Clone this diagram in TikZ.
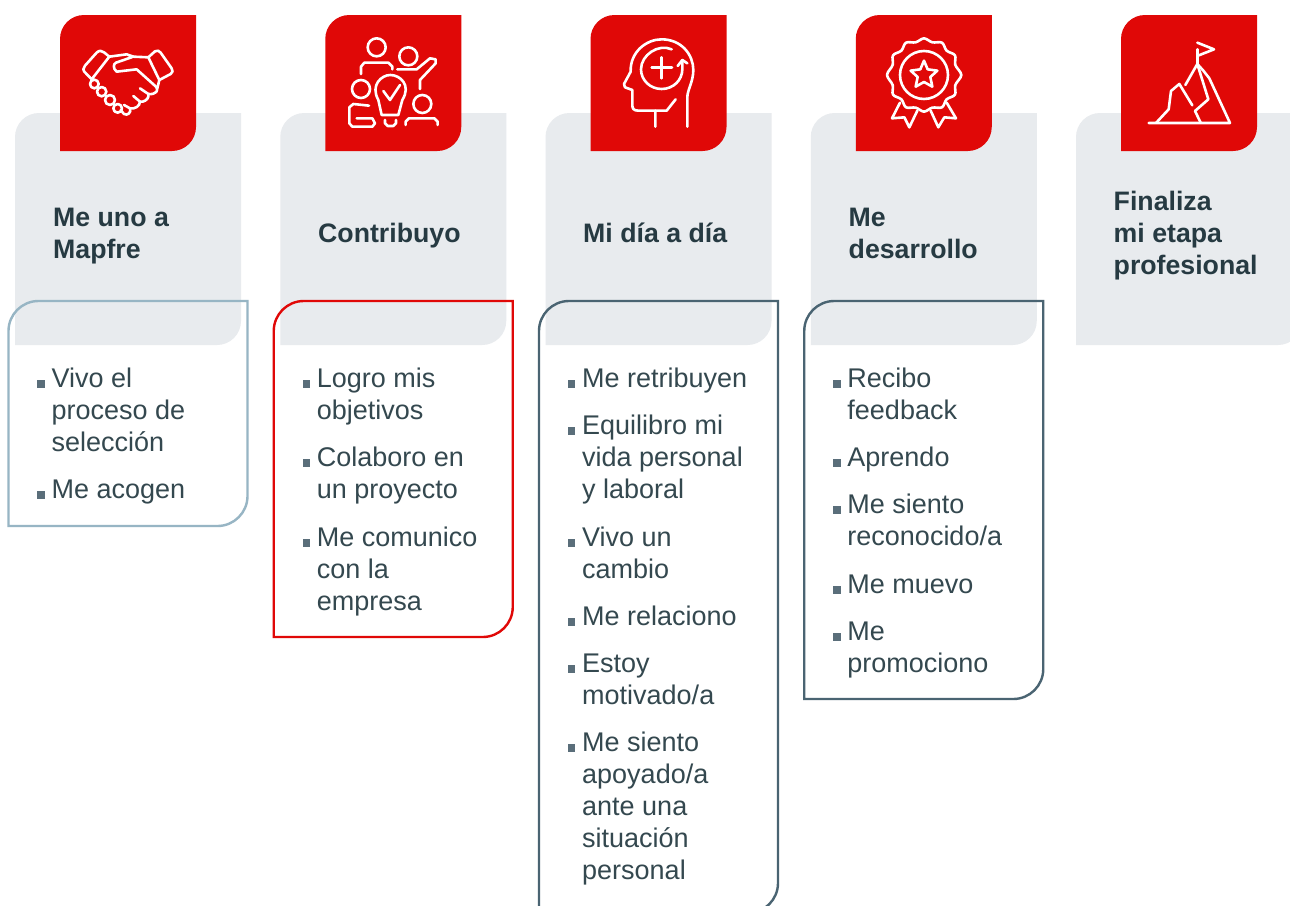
\documentclass[tikz,border=0pt]{standalone}
\usepackage{fontspec}
\setmainfont{Liberation Sans}
\definecolor{greyp}{HTML}{E8EBEE}
\definecolor{redp}{HTML}{E00807}
\definecolor{ink}{HTML}{263A42}
\definecolor{itemink}{HTML}{34484F}
\definecolor{bul}{HTML}{5A6E7A}
\definecolor{lblue}{HTML}{97B5C4}
\definecolor{dblue}{HTML}{4A6472}
\tikzset{
  x=1pt,y=-1pt,
  title/.style={anchor=north west,align=left,text=ink,inner sep=0pt,font=\fontsize{26.7}{32}\selectfont\bfseries},
  item/.style={anchor=north west,align=left,text=itemink,inner sep=0pt,font=\fontsize{27}{32}\selectfont},
  bulletm/.style={fill=bul,minimum size=7.5pt,inner sep=0pt},
  icon/.style={draw=white,line width=2.6pt,line cap=round,line join=round,fill=none},
}
\newcommand{\panel}[1]{%
  \fill[greyp] (#1+15,345) -- (#1+15,137) arc[start angle=180,end angle=270,radius=24] -- (#1+241,113) -- (#1+241,321) arc[start angle=0,end angle=90,radius=24] -- cycle;
  \fill[redp] (#1+60,151) -- (#1+60,39) arc[start angle=180,end angle=270,radius=24] -- (#1+196,15) -- (#1+196,127) arc[start angle=0,end angle=90,radius=24] -- cycle;
}
\newcommand{\outlinebox}[3]{%
  \draw[#3,line width=2.4pt] (#1+8.5,#2) -- (#1+8.5,331) arc[start angle=180,end angle=270,radius=30] -- (#1+247.5,301) -- (#1+247.5,#2-30) arc[start angle=0,end angle=90,radius=30] -- cycle;
}
\newcommand{\entry}[4]{%
  \node[bulletm] (b#1) at (#2+41,#3+6) {};
  \node[item] (t#1) at (#2+51.5,#3-11) {\rule{0pt}{20pt}#4};
}
\newcommand{\heading}[4]{%
  \node[title] (#1) at (#2,#3-20) {\rule{0pt}{20pt}#4};
}
\begin{document}
\begin{tikzpicture}
\useasboundingbox (0,0) rectangle (1290,905);
\fill[white] (0,0) rectangle (1290,905);
\begin{scope}
\clip (0,0) rectangle (1290,905);
\panel{0}\panel{265.25}\panel{530.5}\panel{795.75}\panel{1061}
\outlinebox{0}{526}{lblue}
\outlinebox{265.25}{637}{redp}
\outlinebox{530.5}{913}{dblue}
\outlinebox{795.75}{699}{dblue}
\end{scope}
\heading{ta}{53}{226}{Me uno a\\Mapfre}
\heading{tb}{318}{242}{Contribuyo}
\heading{tc}{583}{242}{Mi día a día}
\heading{td}{848.5}{226}{Me\\desarrollo}
\heading{te}{1113.5}{210}{Finaliza\\mi etapa\\profesional}
\entry{a1}{0}{378}{Vivo el\\proceso de\\selección}
\entry{a2}{0}{489}{Me acogen}
\entry{b1}{265.25}{378}{Logro mis\\objetivos}
\entry{b2}{265.25}{457}{Colaboro en\\un proyecto}
\entry{b3}{265.25}{537}{Me comunico\\con la\\empresa}
\entry{c1}{530.5}{378}{Me retribuyen}
\entry{c2}{530.5}{425}{Equilibro mi\\vida personal\\y laboral}
\entry{c3}{530.5}{537}{Vivo un\\cambio}
\entry{c4}{530.5}{616}{Me relaciono}
\entry{c5}{530.5}{663}{Estoy\\motivado/a}
\entry{c6}{530.5}{742}{Me siento\\apoyado/a\\ante una\\situación\\personal}
\entry{d1}{795.75}{378}{Recibo\\feedback}
\entry{d2}{795.75}{457}{Aprendo}
\entry{d3}{795.75}{504}{Me siento\\reconocido/a}
\entry{d4}{795.75}{584}{Me muevo}
\entry{d5}{795.75}{631}{Me\\promociono}
\begin{scope}[shift={(50,10)},x=0.3333pt,y=-0.3333pt]
\draw[icon] (100,178) .. controls (100,172) and (102,170) .. (105,167) -- (140,128) .. controls (148,120) and (155,122) .. (162,127) -- (178,140) -- (125,208) -- (103,185) -- cycle;
\draw[icon] (178,140) -- (230,133) -- (250,140) -- (198,158) .. controls (190,162) and (188,175) .. (200,185) -- (260,178) -- (318,230) .. controls (328,240) and (318,255) .. (295,252) -- (270,235);
\draw[icon] (250,140) -- (295,142) -- (315,124) .. controls (322,120) and (328,122) .. (332,128) -- (365,175) .. controls (370,182) and (368,188) .. (362,192) -- (328,210) -- (295,142);
\draw[icon] (322,235) -- (328,210);
\draw[icon] (295,252) .. controls (298,262) and (290,272) .. (278,275) -- (270,275) -- (250,258);
\draw[icon] (270,275) .. controls (270,288) and (255,298) .. (240,295) -- (222,285);
\draw[icon] (240,295) .. controls (245,308) and (232,318) .. (222,312) -- (212,300);
\draw[icon] (133,222) circle[radius=13];
\draw[icon] (155,245) circle[radius=14];
\draw[icon] (180,270) circle[radius=15];
\draw[icon] (203,295) circle[radius=13];
\end{scope}
\begin{scope}[shift={(315,10)},x=0.3333pt,y=-0.3333pt]
\draw[icon] (185,112) circle[radius=27];
\draw[icon] (280,139) circle[radius=27];
\draw[icon] (138,237) circle[radius=27];
\draw[icon] (322,282) circle[radius=27];
\draw[icon] (138,192) -- (138,170) -- (148,158) -- (220,158) -- (232,170) -- (232,178);
\draw[icon] (247,178) -- (305,178) -- (345,145) -- (362,148) -- (362,160) -- (315,210) -- (315,237);
\draw[icon] (162,287) -- (115,282) -- (103,292) -- (103,340) -- (112,350) -- (172,350) -- (180,340) -- (172,325) -- (125,325);
\draw[icon] (200,315) -- (190,270) .. controls (165,225) and (200,195) .. (226,195) .. controls (255,195) and (290,225) .. (262,270) -- (250,315) -- cycle;
\draw[icon] (205,243) -- (225,270) -- (255,225);
\draw[icon] (210,330) -- (210,340) -- (218,348) -- (235,348) -- (243,340) -- (243,330);
\draw[icon] (272,345) -- (272,335) -- (282,325) -- (358,325) -- (368,335) -- (368,345);
\end{scope}
\begin{scope}[shift={(580,10)},x=0.3333pt,y=-0.3333pt]
\draw[icon] (226,350) -- (226,302) -- (175,302) .. controls (160,302) and (157,295) .. (157,285) -- (157,240) -- (135,232) -- (132,222) -- (152,185) .. controls (150,125) and (200,88) .. (245,88) .. controls (305,88) and (340,135) .. (340,180) .. controls (340,215) and (322,240) .. (322,262) -- (322,350);
\draw[icon] (226,302) -- (260,302) -- (287,268);
\draw[icon] (275,118) .. controls (235,100) and (183,135) .. (183,178) .. controls (183,210) and (210,237) .. (245,237) .. controls (280,237) and (307,210) .. (307,178) -- (307,150);
\draw[icon] (293,168) -- (307,150) -- (322,160);
\draw[icon] (245,142) -- (245,205);
\draw[icon] (215,173) -- (276,173);
\end{scope}
\begin{scope}[shift={(845,10)},x=0.3333pt,y=-0.3333pt]
\draw[icon] plot[smooth cycle,tension=0.55] coordinates {(237,85) (262,97) (291,98) (305,122) (330,136) (331,165) (349,195) (331,225) (330,254) (305,268) (291,292) (262,293) (237,305) (212,293) (183,292) (169,268) (144,254) (143,225) (126,195) (143,165) (144,136) (169,122) (183,98) (212,97)};
\draw[icon] (237,195) circle[radius=72];
\draw[icon] (237,152) -- (248,178) -- (277,182) -- (256,201) -- (262,230) -- (237,216) -- (212,230) -- (218,201) -- (197,182) -- (226,178) -- cycle;
\draw[icon] (165,278) -- (141,325) -- (178,322) -- (193,352) -- (217,302);
\draw[icon] (305,278) -- (333,325) -- (298,322) -- (280,352) -- (257,302);
\end{scope}
\begin{scope}[shift={(1110,10)},x=0.3333pt,y=-0.3333pt]
\draw[icon] (116,339) -- (360,339) -- (298,205) -- (280,182) -- (262,162);
\draw[icon] (262,162) -- (262,118);
\draw[icon] (262,98) -- (312,118) -- (264,137);
\draw[icon] (262,162) -- (226,225);
\draw[icon] (262,162) -- (295,268) -- (255,303) -- (272,338);
\draw[icon] (138,339) -- (176,298) -- (183,243) -- (208,222) -- (247,286);
\end{scope}
\end{tikzpicture}
\end{document}
